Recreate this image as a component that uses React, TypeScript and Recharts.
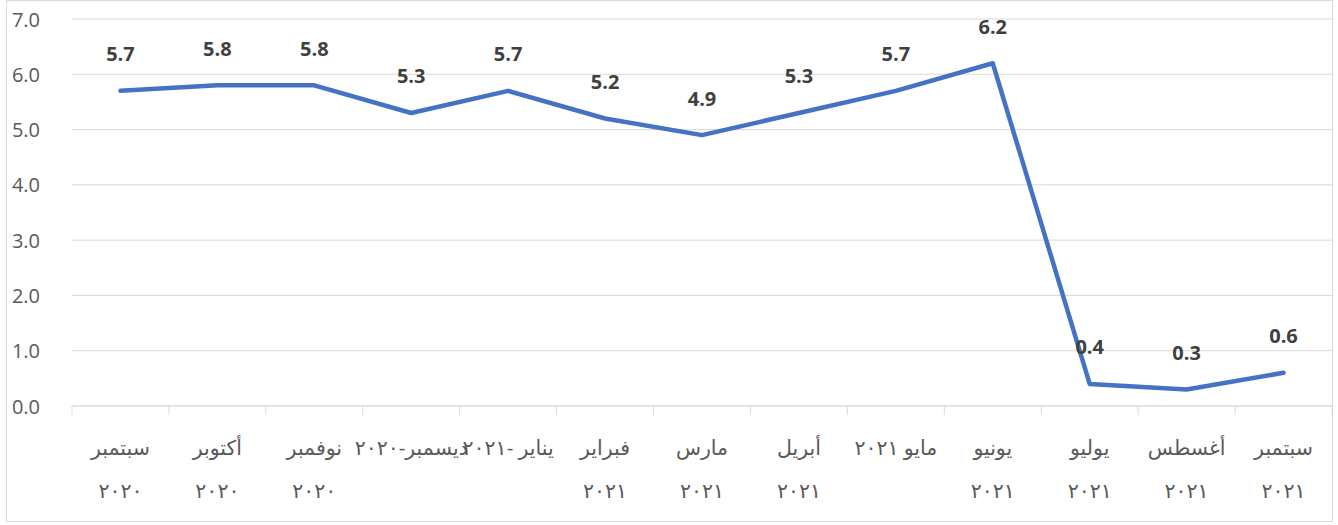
import React from "react";
import { LineChart, Line, XAxis, YAxis, CartesianGrid, LabelList } from "recharts";

const categories: string[] = [
  "سبتمبر\n٢٠٢٠",
  "أكتوبر\n٢٠٢٠",
  "نوفمبر\n٢٠٢٠",
  "ديسمبر-٢٠٢٠",
  "يناير -٢٠٢١",
  "فبراير\n٢٠٢١",
  "مارس\n٢٠٢١",
  "أبريل\n٢٠٢١",
  "مايو ٢٠٢١",
  "يونيو\n٢٠٢١",
  "يوليو\n٢٠٢١",
  "أغسطس\n٢٠٢١",
  "سبتمبر\n٢٠٢١",
];

const values: number[] = [5.7, 5.8, 5.8, 5.3, 5.7, 5.2, 4.9, 5.3, 5.7, 6.2, 0.4, 0.3, 0.6];

const yTicks: number[] = [0, 1, 2, 3, 4, 5, 6, 7];

const data = categories.map((c, i) => ({ name: c, value: values[i] }));

const W = 1325;
const H = 520;
const M_LEFT = 65;
const M_TOP = 18;
const X_AXIS_H = 115;
const PLOT_W = W - M_LEFT;
const BAND = PLOT_W / categories.length;

const TEXT = "#595959";
const GRID = "#d9d9d9";
const FONT = "'Open Sans', 'DejaVu Sans', sans-serif";

const XTick = (props: any) => {
  const { x, y, payload, index } = props;
  const lines = String(payload.value).split("\n");
  const isLast = index === categories.length - 1;
  return (
    <g>
      <line x1={x - BAND / 2} x2={x - BAND / 2} y1={y} y2={y + 9} stroke={GRID} strokeWidth={1} />
      {isLast && <line x1={x + BAND / 2} x2={x + BAND / 2} y1={y} y2={y + 9} stroke={GRID} strokeWidth={1} />}
      {lines.map((l, i) => (
        <text
          key={i}
          x={x}
          y={y + 41 + i * 43}
          textAnchor="middle"
          dominantBaseline="central"
          fill={TEXT}
          fontSize={20.5}
          fontFamily={FONT}
        >
          {l}
        </text>
      ))}
    </g>
  );
};

const YTick = (props: any) => {
  const { x, y, payload } = props;
  return (
    <text x={x} y={y} textAnchor="end" dominantBaseline="central" fill={TEXT} fontSize={20} fontFamily={FONT}>
      {Number(payload.value).toFixed(1)}
    </text>
  );
};

const ValueLabel = (props: any) => {
  const { x, y, value } = props;
  return (
    <text
      x={x}
      y={y - 37}
      textAnchor="middle"
      dominantBaseline="central"
      fill="#404040"
      fontSize={20}
      fontWeight="bold"
      fontFamily={FONT}
    >
      {Number(value).toFixed(1)}
    </text>
  );
};

export default function App() {
  return (
    <div
      style={{
        position: "absolute",
        left: 6,
        top: 0,
        width: W + 2,
        height: H + 2,
        boxSizing: "border-box",
        border: `1px solid ${GRID}`,
        background: "#fff",
      }}
    >
      <LineChart width={W} height={H} data={data} margin={{ top: M_TOP, right: 0, bottom: 0, left: 0 }}>
        <CartesianGrid horizontal vertical={false} stroke={GRID} strokeWidth={1} />
        <XAxis
          dataKey="name"
          height={X_AXIS_H}
          interval={0}
          padding={{ left: BAND / 2, right: BAND / 2 }}
          axisLine={{ stroke: GRID, strokeWidth: 1 }}
          tickLine={false}
          tickSize={0}
          tickMargin={0}
          tick={<XTick />}
        />
        <YAxis
          width={M_LEFT}
          domain={[0, 7]}
          ticks={yTicks}
          axisLine={false}
          tickLine={false}
          tickSize={0}
          tickMargin={32}
          tick={<YTick />}
        />
        <Line
          type="linear"
          dataKey="value"
          stroke="#4472C4"
          strokeWidth={4.5}
          dot={false}
          activeDot={false}
          strokeLinejoin="round"
          strokeLinecap="round"
          isAnimationActive={false}
        >
          <LabelList dataKey="value" content={<ValueLabel />} />
        </Line>
      </LineChart>
    </div>
  );
}
